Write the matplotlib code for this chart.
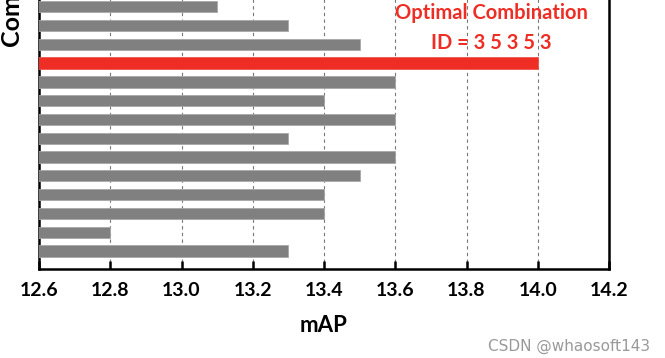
import matplotlib.pyplot as plt

# combinations, listed top to bottom as in the chart
combo_map = [13.1, 13.3, 13.5, 14.0, 13.6, 13.4, 13.6, 13.3, 13.6, 13.5, 13.4, 13.4, 12.8, 13.3]
best_idx = 3
xticks = [12.6, 12.8, 13.0, 13.2, 13.4, 13.6, 13.8, 14.0, 14.2]

gray = "#808080"
red = "#ee2d24"
font = "Lato"

fig = plt.figure(figsize=(6.65, 3.58), dpi=100)
# top of the axes lies above the figure (the picture is cropped at the top)
ax = fig.add_axes([39 / 665, 89 / 358, 570 / 665, 281 / 358])

n = len(combo_map)
ypos = list(range(n - 1, -1, -1))
colors = [red if i == best_idx else gray for i in range(n)]
edges = ["#ee5550" if i == best_idx else "#a8a8a8" for i in range(n)]
ax.barh(ypos, combo_map, height=0.6, color=colors, edgecolor=edges, linewidth=0.6, zorder=3)

ax.set_xlim(12.6, 14.2)
ax.set_ylim(-0.96, 14)
ax.set_xticks(xticks)
ax.set_xticklabels([f"{t:.1f}" for t in xticks], fontfamily=font, fontweight="bold", fontsize=14)
ax.set_yticks([])
ax.tick_params(axis="x", direction="in", length=6, width=1.8, pad=9)
ax.grid(axis="x", linestyle=(0, (3, 3)), color="#777777", linewidth=0.8, zorder=0)
for s in ax.spines.values():
    s.set_linewidth(1.8)

ax.set_xlabel("mAP", fontfamily=font, fontweight="bold", fontsize=16, labelpad=12)

fig.text(0 / 665, 1 - 46 / 358, "Combination", rotation=90, ha="left", va="bottom",
         fontfamily=font, fontweight="bold", fontsize=18)

fig.text(491 / 665, 1 - 13 / 358, "Optimal Combination", ha="center", va="center",
         color=red, fontfamily=font, fontweight="bold", fontsize=14.5)
fig.text(491 / 665, 1 - 43 / 358, "ID = 3 5 3 5 3", ha="center", va="center",
         color=red, fontfamily=font, fontweight="bold", fontsize=14.5)

fig.text(650 / 665, 1 - 346 / 358, "CSDN @whaosoft143", ha="right", va="center",
         color="#999999", fontsize=11)

fig.savefig("out.png", dpi=100)
